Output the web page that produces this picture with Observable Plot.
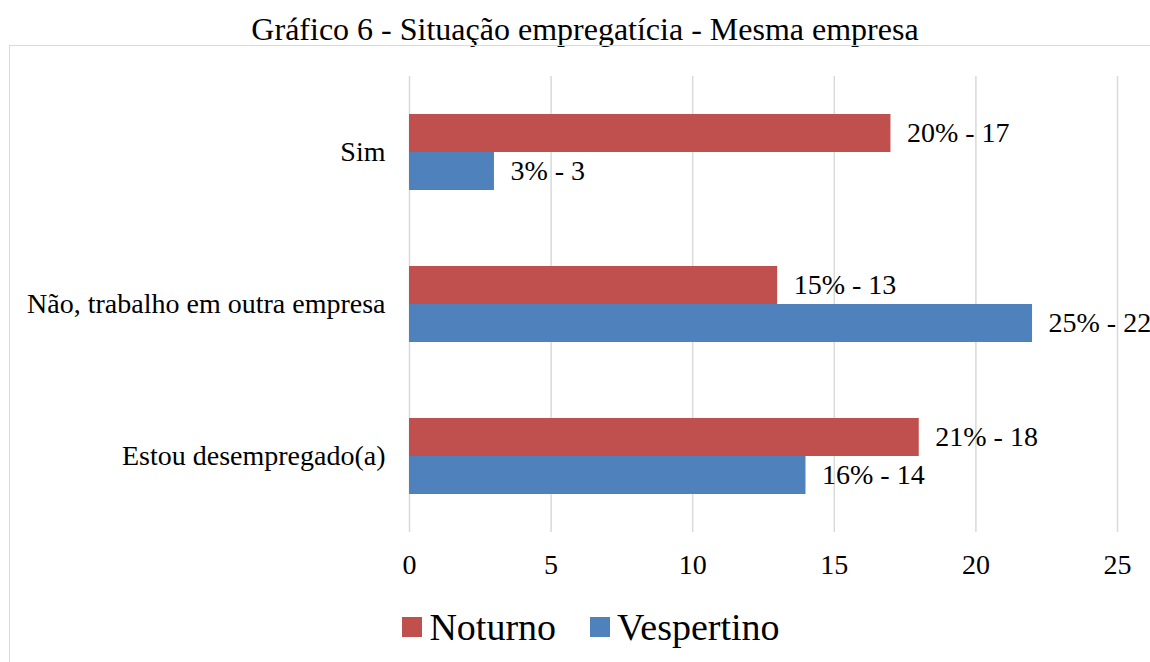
<!DOCTYPE html>
<html>
<head>
<meta charset="utf-8">
<script src="https://cdn.jsdelivr.net/npm/d3@7"></script>
<script src="https://cdn.jsdelivr.net/npm/@observablehq/plot@0.6"></script>
<style>
  html, body { margin: 0; padding: 0; background: #fff; width: 1150px; height: 662px; overflow: hidden; }
  body { position: relative; font-family: "Liberation Serif", "Times New Roman", serif; color: #000; }
  #title { position: absolute; top: 9px; left: 20px; width: 1130px; text-align: center; font-size: 32px; line-height: 40px; }
  #box { position: absolute; top: 45px; left: 9px; width: 1200px; height: 700px; border: 1.5px solid #d9d9d9; box-sizing: border-box; }
  #chart { position: absolute; top: 46px; left: 0; }
  #legend { position: absolute; top: 603px; left: 0; width: 1150px; display: flex; justify-content: center; padding-left: 32px; box-sizing: border-box; font-size: 38px; line-height: 48px; }
  .item { display: flex; align-items: center; margin: 0 17px; }
  .sw { width: 20px; height: 20px; margin-right: 7px; }
  svg text { font-family: "Liberation Serif", "Times New Roman", serif; }
</style>
</head>
<body>
<div id="title">Gráfico 6 - Situação empregatícia - Mesma empresa</div>
<div id="box"></div>
<div id="chart"></div>
<div id="legend"></div>
<script>
const categories = ["Sim", "Não, trabalho em outra empresa", "Estou desempregado(a)"];
const series = ["Noturno", "Vespertino"];
const colors = ["#C0504D", "#4F81BD"];
const noturno = [17, 13, 18];
const vespertino = [3, 22, 14];
const noturnoPct = ["20%", "15%", "21%"];
const vespertinoPct = ["3%", "25%", "16%"];
const xTicks = [0, 5, 10, 15, 20, 25];

const rows = [];
categories.forEach((c, i) => {
  rows.push({cat: c, series: "Noturno", value: noturno[i], label: `${noturnoPct[i]} - ${noturno[i]}`});
  rows.push({cat: c, series: "Vespertino", value: vespertino[i], label: `${vespertinoPct[i]} - ${vespertino[i]}`});
});

const chart = Plot.plot({
  width: 1150,
  height: 550,
  marginLeft: 409,
  marginRight: 33,
  marginTop: 29,
  marginBottom: 64,
  style: {fontFamily: "Liberation Serif, Times New Roman, serif", fontSize: "28px", color: "#000", background: "transparent", overflow: "visible"},
  x: {domain: [0, 25], ticks: xTicks, tickSize: 0, tickPadding: 22, label: null},
  fy: {domain: categories, padding: 0, label: null, tickSize: 0, tickPadding: 24, axis: "left"},
  y: {domain: series, paddingInner: 0, paddingOuter: 0.95, axis: null},
  color: {domain: series, range: colors},
  marks: [
    Plot.ruleX(xTicks, {stroke: "#d9d9d9", strokeWidth: 1.5, strokeOpacity: 1}),
    Plot.barX(rows, {x: "value", y: "series", fy: "cat", fill: "series"}),
    Plot.text(rows, {x: "value", y: "series", fy: "cat", text: "label", textAnchor: "start", dx: 16, fill: "#000"})
  ]
});
document.getElementById("chart").appendChild(chart);

const legend = document.getElementById("legend");
series.forEach((s, i) => {
  const item = document.createElement("div");
  item.className = "item";
  const sw = document.createElement("div");
  sw.className = "sw";
  sw.style.background = colors[i];
  const t = document.createElement("span");
  t.textContent = s;
  item.appendChild(sw);
  item.appendChild(t);
  legend.appendChild(item);
});
</script>
</body>
</html>
